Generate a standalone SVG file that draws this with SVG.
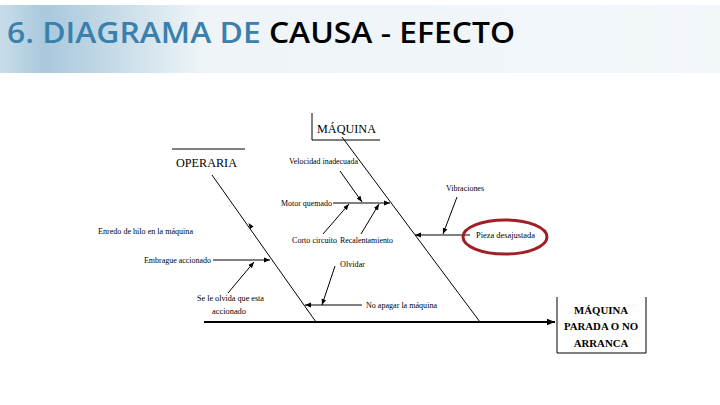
<svg xmlns="http://www.w3.org/2000/svg" width="720" height="405" viewBox="0 0 720 405">
<style>
.t{font-family:"Liberation Serif","Times New Roman",serif;fill:#000}
.s{font-size:8px}
.b{font-size:12px}
.bx{font-size:10.8px;font-weight:bold;text-anchor:middle}
.ln{stroke:#000;stroke-width:1;fill:none}
.ar{stroke:#000;stroke-width:1;fill:none;marker-end:url(#ah)}
</style>
<defs>
<linearGradient id="hg" x1="0" y1="0" x2="1" y2="0">
<stop offset="0" stop-color="#c9dde9"/>
<stop offset="0.06" stop-color="#a9c9dd"/>
<stop offset="0.12" stop-color="#b9d3e3"/>
<stop offset="0.28" stop-color="#eef4f8"/>
<stop offset="1" stop-color="#f3f7fa"/>
</linearGradient>
<marker id="ah" viewBox="0 0 10 10" refX="10" refY="5" markerWidth="6" markerHeight="6" orient="auto" markerUnits="userSpaceOnUse">
<path d="M0,1 L10,5 L0,9 Z" fill="#000"/>
</marker>
<marker id="ahb" viewBox="0 0 10 10" refX="10" refY="5" markerWidth="4" markerHeight="4" orient="auto">
<path d="M0,1 L10,5 L0,9 Z" fill="#000"/>
</marker>
</defs>
<rect x="0" y="0" width="720" height="405" fill="#fff"/>
<g id="header">
<rect x="0" y="5" width="720" height="68" fill="url(#hg)"/>
<text x="7" y="43" font-family="'Open Sans','Liberation Sans',sans-serif" font-size="28" font-weight="600" textLength="508" lengthAdjust="spacingAndGlyphs"><tspan fill="#3a80ad">6. DIAGRAMA DE </tspan><tspan fill="#000">CAUSA - EFECTO</tspan></text>
</g>
<g id="connectors">
<line x1="204" y1="322" x2="555" y2="322" stroke="#000" stroke-width="2" marker-end="url(#ahb)"/>
<line class="ln" x1="342" y1="137" x2="480" y2="322"/>
<line class="ln" x1="212" y1="175" x2="316" y2="322"/>
<path d="M250,229 l-1.5,-6 l5,3.5 Z" fill="#000"/>
<line class="ar" x1="213" y1="260" x2="270" y2="260"/>
<line class="ar" x1="228" y1="293" x2="254" y2="262"/>
<line class="ar" x1="333" y1="203" x2="390" y2="203"/>
<line class="ar" x1="340" y1="171" x2="362" y2="202"/>
<line class="ar" x1="323" y1="234" x2="349" y2="204"/>
<line class="ar" x1="361" y1="234" x2="379" y2="204"/>
<line class="ar" x1="470" y1="235" x2="415" y2="235"/>
<line class="ar" x1="457" y1="197" x2="443" y2="234"/>
<line class="ar" x1="362" y1="305" x2="305" y2="305"/>
<line class="ar" x1="335" y1="266" x2="322" y2="305"/>
</g>
<g id="maquina">
<path class="ln" d="M312,113 V140 H380"/>
<text class="t b" x="317" y="133" textLength="59" lengthAdjust="spacingAndGlyphs">MÁQUINA</text>
</g>
<g id="operaria">
<line class="ln" x1="172" y1="149" x2="245" y2="149"/>
<text class="t b" x="176" y="167" textLength="61" lengthAdjust="spacingAndGlyphs">OPERARIA</text>
</g>
<g id="velocidad"><text class="t s" x="289" y="164" textLength="69" lengthAdjust="spacingAndGlyphs">Velocidad inadecuada</text></g>
<g id="motor"><text class="t s" x="281" y="206" textLength="51" lengthAdjust="spacingAndGlyphs">Motor quemado</text></g>
<g id="corto"><text class="t s" x="292" y="243" textLength="45" lengthAdjust="spacingAndGlyphs">Corto circuito</text></g>
<g id="recalentamiento"><text class="t s" x="340" y="243" textLength="53" lengthAdjust="spacingAndGlyphs">Recalentamiento</text></g>
<g id="vibraciones"><text class="t s" x="446" y="191" textLength="38" lengthAdjust="spacingAndGlyphs">Vibraciones</text></g>
<g id="pieza">
<ellipse cx="505" cy="237" rx="42" ry="17" fill="none" stroke="#a01f24" stroke-width="3"/>
<text class="t s" x="476" y="238" textLength="59" lengthAdjust="spacingAndGlyphs">Pieza desajustada</text>
</g>
<g id="enredo"><text class="t s" x="98" y="234" textLength="95" lengthAdjust="spacingAndGlyphs">Enredo de hilo en la máquina</text></g>
<g id="embrague"><text class="t s" x="144" y="263" textLength="67" lengthAdjust="spacingAndGlyphs">Embrague accionado</text></g>
<g id="olvida">
<text class="t s" x="197" y="301" textLength="67" lengthAdjust="spacingAndGlyphs">Se le olvida que esta</text>
<text class="t s" x="212" y="314" textLength="34" lengthAdjust="spacingAndGlyphs">accionado</text>
</g>
<g id="olvidar"><text class="t s" x="340" y="267" textLength="25" lengthAdjust="spacingAndGlyphs">Olvidar</text></g>
<g id="apagar"><text class="t s" x="366" y="308" textLength="71" lengthAdjust="spacingAndGlyphs">No apagar la máquina</text></g>
<g id="efecto">
<path class="ln" d="M557,297 V353 H646 V297"/>
<text class="t bx" x="601" y="314">MÁQUINA</text>
<text class="t bx" x="601" y="330">PARADA O NO</text>
<text class="t bx" x="601" y="347">ARRANCA</text>
</g>
</svg>
